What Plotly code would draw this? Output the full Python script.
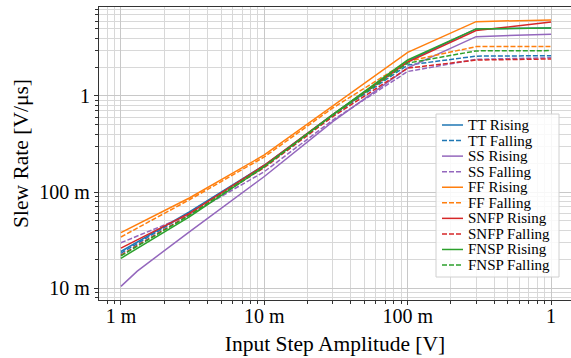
import plotly.graph_objects as go

# Data (x in volts, y in V/us)
x_common = [1e-3, 3e-3, 10e-3, 30e-3, 100e-3, 300e-3, 1.0]
x_ss_rise = [1e-3, 1.3e-3, 3e-3, 10e-3, 30e-3, 100e-3, 300e-3, 1.0]

tt_rise = [0.024, 0.062, 0.190, 0.640, 2.30, 5.00, 5.10]
tt_fall = [0.023, 0.061, 0.188, 0.630, 2.10, 2.60, 2.63]
ss_rise = [0.0104, 0.0150, 0.0385, 0.145, 0.540, 1.96, 4.15, 4.40]
ss_fall = [0.0296, 0.058, 0.163, 0.560, 1.80, 2.41, 2.50]
ff_rise = [0.0377, 0.0866, 0.243, 0.790, 2.85, 5.95, 6.20]
ff_fall = [0.034, 0.083, 0.232, 0.750, 2.30, 3.27, 3.27]
snfp_rise = [0.026, 0.060, 0.190, 0.640, 2.25, 4.80, 5.90]
snfp_fall = [0.022, 0.058, 0.180, 0.610, 1.95, 2.37, 2.43]
fnsp_rise = [0.0204, 0.055, 0.184, 0.640, 2.37, 5.00, 5.10]
fnsp_fall = [0.0216, 0.057, 0.185, 0.630, 2.20, 2.95, 2.97]

x_tickvals = [1e-3, 1e-2, 1e-1, 1]
x_ticktext = ["1 m", "10 m", "100 m", "1"]
y_tickvals = [1e-2, 1e-1, 1]
y_ticktext = ["10 m", "100 m", "1"]

series = [
    ("TT Rising", x_common, tt_rise, "#1f77b4", "solid"),
    ("TT Falling", x_common, tt_fall, "#1f77b4", "dash"),
    ("SS Rising", x_ss_rise, ss_rise, "#9467bd", "solid"),
    ("SS Falling", x_common, ss_fall, "#9467bd", "dash"),
    ("FF Rising", x_common, ff_rise, "#ff7f0e", "solid"),
    ("FF Falling", x_common, ff_fall, "#ff7f0e", "dash"),
    ("SNFP Rising", x_common, snfp_rise, "#d62728", "solid"),
    ("SNFP Falling", x_common, snfp_fall, "#d62728", "dash"),
    ("FNSP Rising", x_common, fnsp_rise, "#2ca02c", "solid"),
    ("FNSP Falling", x_common, fnsp_fall, "#2ca02c", "dash"),
]

W, H = 571, 358
ML, MR, MT, MB = 99, 0, 7, 58
PW, PH = W - ML - MR, H - MT - MB

def px(xp):
    return (xp - ML) / PW

def py(yp):
    return (H - MB - yp) / PH

DASH = "5px,2px"
fig = go.Figure()
for name, xs, ys, color, dash in series:
    fig.add_trace(go.Scatter(
        x=xs, y=ys, mode="lines", name=name, showlegend=False,
        line=dict(color=color, width=1.5, dash=(DASH if dash == "dash" else "solid")),
    ))

font_family = "Liberation Serif"

# Compact legend (matplotlib-like spacing)
shapes = [dict(type="rect", xref="paper", yref="paper",
               x0=px(436), x1=px(559), y0=py(277), y1=py(114),
               fillcolor="rgba(255,255,255,0.85)", line=dict(color="#d0d0d0", width=1),
               layer="above")]
annotations = []
row0, drow = 125.0, 15.56
for i, (name, xs, ys, color, dash) in enumerate(series):
    yc = row0 + i * drow
    shapes.append(dict(type="line", xref="paper", yref="paper",
                       x0=px(442), x1=px(463), y0=py(yc), y1=py(yc),
                       line=dict(color=color, width=1.5, dash=(DASH if dash == "dash" else "solid")),
                       layer="above"))
    annotations.append(dict(xref="paper", yref="paper", x=px(467), y=py(yc),
                            xanchor="left", yanchor="middle", text=name, showarrow=False,
                            borderpad=0,
                            font=dict(family=font_family, size=15, color="black")))

fig.update_layout(
    width=W, height=H,
    margin=dict(l=ML, r=MR, t=MT, b=MB),
    paper_bgcolor="white", plot_bgcolor="white",
    font=dict(family=font_family, size=20, color="black"),
    showlegend=False,
    shapes=shapes, annotations=annotations,
)
fig.update_xaxes(
    type="log", range=[-3.153, 0.139],
    tickvals=x_tickvals, ticktext=x_ticktext,
    showline=True, linecolor="#333333", linewidth=1.2, mirror=True,
    ticks="outside", ticklen=4, tickcolor="#333333",
    showgrid=True, gridcolor="#c8c8c8", gridwidth=1,
    minor=dict(ticks="outside", ticklen=2.5, tickcolor="#333333", showgrid=True,
               gridcolor="#d8d8d8", gridwidth=1,
               tickvals=[m * 10 ** e for e in range(-4, 1) for m in range(2, 10)]),
    title=dict(text="Input Step Amplitude [V]", font=dict(family=font_family, size=21.5), standoff=9),
    tickfont=dict(family=font_family, size=20),
    ticklabelstandoff=-6,
    zeroline=False,
)
fig.update_yaxes(
    type="log", range=[-2.125, 0.927],
    tickvals=y_tickvals, ticktext=y_ticktext,
    showline=True, linecolor="#333333", linewidth=1.2, mirror=True,
    ticks="outside", ticklen=4, tickcolor="#333333",
    showgrid=True, gridcolor="#c8c8c8", gridwidth=1,
    minor=dict(ticks="outside", ticklen=2.5, tickcolor="#333333", showgrid=True,
               gridcolor="#d8d8d8", gridwidth=1,
               tickvals=[m * 10 ** e for e in range(-3, 1) for m in range(2, 10)]),
    title=dict(text="Slew Rate [V/μs]", font=dict(family=font_family, size=21.5), standoff=4),
    tickfont=dict(family=font_family, size=20),
    zeroline=False,
)

fig.write_html("out.html")
